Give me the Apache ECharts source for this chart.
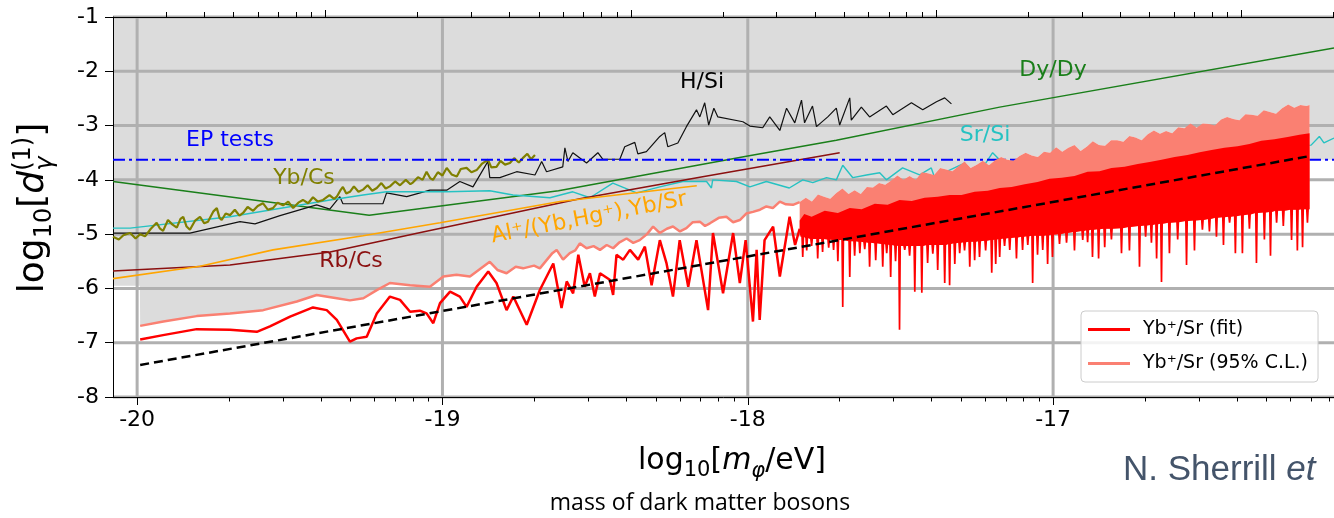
<!DOCTYPE html>
<html><head><meta charset="utf-8">
<script src="https://cdn.jsdelivr.net/npm/echarts@6.0.0/dist/echarts.min.js"></script>
<style>html,body{margin:0;padding:0;background:#fff}#c{width:1334px;height:518px}</style>
</head><body><div id="c"></div>
<script>
// ---------------- data ----------------
const xTickValues = [-20, -19, -18, -17];
const yTickValues = [-8, -7, -6, -5, -4, -3, -2, -1];
const X0 = -20.079, X1 = -16.08;
const topDecadeOffset = -20.3825; // top (log) axis decades, in bottom-axis units

const epTests = [[-20.079, -3.63], [-16.08, -3.63]];
const dyDy = [[-20.079,-4.03],[-19.24,-4.65],[-18.62,-4.20],[-18.33,-3.90],[-18.0,-3.56],[-17.71,-3.27],[-17.175,-2.66],[-16.08,-1.57]];
const hSi = [[-20.079,-4.98],[-19.827,-4.98],[-19.663,-4.77],[-19.614,-4.81],[-19.532,-4.66],[-19.412,-4.46],[-19.369,-4.54],[-19.336,-4.31],[-19.326,-4.44],[-19.195,-4.44],[-19.183,-4.24],[-19.117,-4.31],[-19.041,-4.19],[-18.986,-4.19],[-18.943,-4.03],[-18.900,-4.13],[-18.851,-3.66],[-18.845,-3.96],[-18.812,-3.96],[-18.757,-3.85],[-18.697,-3.91],[-18.675,-3.66],[-18.659,-3.85],[-18.606,-3.76],[-18.599,-3.41],[-18.589,-3.66],[-18.573,-3.50],[-18.528,-3.69],[-18.491,-3.50],[-18.475,-3.62],[-18.419,-3.62],[-18.403,-3.39],[-18.370,-3.31],[-18.360,-3.52],[-18.332,-3.48],[-18.288,-3.20],[-18.272,-3.13],[-18.262,-3.39],[-18.229,-3.32],[-18.201,-3.02],[-18.168,-2.71],[-18.157,-2.84],[-18.141,-2.58],[-18.128,-2.99],[-18.111,-2.68],[-18.098,-2.84],[-18.016,-2.93],[-17.993,-3.01],[-17.951,-3.04],[-17.928,-2.84],[-17.895,-3.09],[-17.873,-2.68],[-17.846,-2.95],[-17.824,-2.53],[-17.814,-2.95],[-17.788,-2.64],[-17.775,-3.02],[-17.738,-2.84],[-17.710,-2.68],[-17.699,-2.99],[-17.666,-2.49],[-17.661,-2.90],[-17.628,-2.66],[-17.601,-2.84],[-17.546,-2.64],[-17.525,-2.80],[-17.464,-2.58],[-17.427,-2.71],[-17.382,-2.56],[-17.355,-2.49],[-17.333,-2.60]];
const ybCs = [[-20.079,-5.05],[-20.060,-5.10],[-20.045,-5.02],[-20.023,-4.98],[-20.005,-5.08],[-19.990,-5.00],[-19.974,-5.04],[-19.955,-4.90],[-19.936,-4.79],[-19.925,-4.90],[-19.915,-4.94],[-19.899,-4.74],[-19.885,-4.82],[-19.870,-4.88],[-19.858,-4.72],[-19.849,-4.68],[-19.838,-4.86],[-19.827,-4.92],[-19.810,-4.75],[-19.794,-4.68],[-19.780,-4.80],[-19.768,-4.77],[-19.750,-4.58],[-19.739,-4.52],[-19.730,-4.70],[-19.723,-4.74],[-19.710,-4.62],[-19.696,-4.65],[-19.680,-4.55],[-19.665,-4.66],[-19.653,-4.61],[-19.638,-4.50],[-19.620,-4.57],[-19.605,-4.48],[-19.588,-4.43],[-19.572,-4.55],[-19.555,-4.52],[-19.540,-4.42],[-19.522,-4.47],[-19.505,-4.40],[-19.489,-4.52],[-19.472,-4.42],[-19.457,-4.37],[-19.440,-4.43],[-19.424,-4.32],[-19.408,-4.40],[-19.391,-4.37],[-19.370,-4.28],[-19.355,-4.35],[-19.346,-4.31],[-19.335,-4.20],[-19.326,-4.13],[-19.315,-4.25],[-19.303,-4.22],[-19.290,-4.12],[-19.275,-4.22],[-19.260,-4.18],[-19.245,-4.10],[-19.230,-4.20],[-19.215,-4.15],[-19.200,-4.06],[-19.186,-4.16],[-19.172,-4.12],[-19.155,-4.03],[-19.139,-4.10],[-19.120,-4.00],[-19.105,-4.08],[-19.097,-4.05],[-19.080,-3.95],[-19.065,-4.00],[-19.052,-3.85],[-19.040,-3.97],[-19.031,-4.00],[-19.015,-3.86],[-19.000,-3.92],[-18.986,-3.78],[-18.970,-3.90],[-18.953,-3.94],[-18.940,-3.80],[-18.921,-3.78],[-18.905,-3.86],[-18.888,-3.82],[-18.870,-3.70],[-18.851,-3.63],[-18.840,-3.77],[-18.823,-3.76],[-18.810,-3.65],[-18.795,-3.72],[-18.779,-3.69],[-18.765,-3.60],[-18.750,-3.68],[-18.737,-3.60],[-18.722,-3.52],[-18.710,-3.62],[-18.697,-3.54]];
const srSi = [[-20.079,-4.89],[-20.023,-4.89],[-19.696,-4.68],[-19.368,-4.37],[-19.260,-4.28],[-19.183,-4.22],[-18.986,-4.22],[-18.845,-4.20],[-18.769,-4.28],[-18.648,-4.33],[-18.573,-4.22],[-18.517,-4.33],[-18.442,-4.06],[-18.364,-4.24],[-18.288,-4.13],[-18.213,-4.03],[-18.135,-4.03],[-18.119,-4.15],[-18.115,-4.00],[-18.037,-4.03],[-17.993,-4.13],[-17.939,-4.03],[-17.864,-4.15],[-17.820,-4.00],[-17.787,-4.05],[-17.742,-3.96],[-17.710,-4.00],[-17.689,-3.73],[-17.656,-3.96],[-17.611,-3.91],[-17.568,-3.87],[-17.546,-4.00],[-17.493,-3.78],[-17.437,-3.91],[-17.399,-3.78],[-17.388,-3.96],[-17.339,-3.82],[-17.290,-3.69],[-17.273,-3.82],[-17.231,-3.78],[-17.198,-3.50],[-17.165,-3.69],[-16.848,-3.54],[-16.520,-3.45],[-16.155,-3.36],[-16.128,-3.20],[-16.113,-3.32],[-16.080,-3.23]];
const rbCs = [[-20.079,-5.68],[-19.696,-5.57],[-19.368,-5.33],[-19.064,-4.96],[-18.812,-4.66],[-18.550,-4.35],[-18.157,-3.95],[-17.699,-3.50]];
const alYbHgSr = [[-20.079,-5.82],[-19.794,-5.59],[-19.555,-5.29],[-19.260,-5.03],[-19.008,-4.79],[-18.615,-4.40],[-18.167,-4.11]];
const dashedRef = [[-19.990,-7.41],[-16.167,-3.57]];

// Yb+/Sr 95% C.L.: smooth/zigzag part, then top edge of the dense band
const clLine = [[-19.990,-6.69],[-19.914,-6.61],[-19.805,-6.51],[-19.696,-6.46],[-19.587,-6.40],[-19.477,-6.24],[-19.412,-6.12],[-19.346,-6.18],[-19.303,-6.22],[-19.259,-6.18],[-19.215,-6.03],[-19.172,-5.90],[-19.106,-5.94],[-19.041,-5.97],[-18.997,-5.78],[-18.954,-5.75],[-18.910,-5.78],[-18.845,-5.51],[-18.820,-5.66],[-18.790,-5.72],[-18.760,-5.60],[-18.736,-5.63],[-18.700,-5.58],[-18.681,-5.63],[-18.640,-5.35],[-18.626,-5.29],[-18.605,-5.47],[-18.583,-5.35],[-18.565,-5.30],[-18.550,-5.17],[-18.528,-5.26],[-18.505,-5.22],[-18.484,-5.29],[-18.462,-5.20],[-18.441,-5.26],[-18.420,-5.15],[-18.397,-5.08],[-18.375,-5.16],[-18.354,-5.11],[-18.330,-5.00],[-18.310,-4.86],[-18.288,-4.98],[-18.265,-4.90],[-18.245,-4.86],[-18.222,-4.95],[-18.201,-4.89],[-18.180,-4.78],[-18.157,-4.77],[-18.140,-4.85],[-18.124,-4.80],[-18.095,-4.70],[-18.070,-4.68],[-18.048,-4.78],[-18.026,-4.74],[-18.005,-4.62],[-17.983,-4.59],[-17.960,-4.55],[-17.939,-4.49],[-17.918,-4.52],[-17.895,-4.40],[-17.875,-4.45],[-17.852,-4.46],[-17.830,-4.41]];
const clTop = [[-17.83,-4.41],[-17.81,-4.33],[-17.79,-4.40],[-17.77,-4.27],[-17.75,-4.31],[-17.73,-4.35],[-17.71,-4.24],[-17.69,-4.16],[-17.67,-4.26],[-17.65,-4.19],[-17.63,-4.26],[-17.61,-4.13],[-17.59,-4.14],[-17.57,-4.06],[-17.55,-4.09],[-17.53,-4.01],[-17.51,-3.92],[-17.49,-4.00],[-17.47,-3.93],[-17.45,-4.00],[-17.43,-3.86],[-17.41,-3.88],[-17.39,-3.91],[-17.37,-3.78],[-17.35,-3.81],[-17.33,-3.84],[-17.31,-3.75],[-17.29,-3.66],[-17.27,-3.78],[-17.25,-3.72],[-17.23,-3.65],[-17.21,-3.73],[-17.19,-3.64],[-17.17,-3.58],[-17.15,-3.63],[-17.13,-3.65],[-17.11,-3.56],[-17.09,-3.50],[-17.07,-3.55],[-17.05,-3.58],[-17.03,-3.48],[-17.01,-3.50],[-16.99,-3.40],[-16.97,-3.48],[-16.95,-3.41],[-16.93,-3.36],[-16.91,-3.47],[-16.89,-3.39],[-16.87,-3.29],[-16.85,-3.36],[-16.83,-3.37],[-16.81,-3.27],[-16.79,-3.27],[-16.77,-3.30],[-16.75,-3.19],[-16.73,-3.22],[-16.71,-3.27],[-16.69,-3.16],[-16.67,-3.09],[-16.65,-3.15],[-16.63,-3.10],[-16.61,-3.14],[-16.59,-3.03],[-16.57,-3.05],[-16.55,-2.96],[-16.53,-3.04],[-16.51,-2.96],[-16.49,-2.97],[-16.47,-3.00],[-16.45,-2.89],[-16.43,-2.84],[-16.41,-2.88],[-16.39,-2.90],[-16.37,-2.79],[-16.35,-2.80],[-16.33,-2.82],[-16.31,-2.72],[-16.29,-2.75],[-16.27,-2.78],[-16.25,-2.68],[-16.23,-2.61],[-16.21,-2.67],[-16.19,-2.62],[-16.17,-2.64],[-16.16,-2.62]];

// Yb+/Sr fit: smooth/zigzag part, top edge of dense band, and downward spikes [x, bandBottom, tip]
const fitLine = [[-19.990,-6.94],[-19.915,-6.86],[-19.805,-6.75],[-19.696,-6.76],[-19.608,-6.80],[-19.565,-6.70],[-19.499,-6.52],[-19.424,-6.35],[-19.379,-6.40],[-19.346,-6.58],[-19.303,-6.98],[-19.281,-6.92],[-19.248,-6.89],[-19.215,-6.46],[-19.172,-6.15],[-19.139,-6.21],[-19.106,-6.43],[-19.074,-6.41],[-19.052,-6.46],[-19.030,-6.64],[-19.008,-6.27],[-18.975,-6.06],[-18.943,-6.15],[-18.921,-6.34],[-18.888,-5.97],[-18.850,-5.69],[-18.823,-5.90],[-18.790,-6.40],[-18.768,-6.15],[-18.724,-6.67],[-18.681,-6.03],[-18.637,-5.54],[-18.610,-6.36],[-18.593,-5.87],[-18.572,-6.09],[-18.555,-5.38],[-18.534,-5.97],[-18.517,-5.72],[-18.501,-6.15],[-18.484,-5.72],[-18.452,-5.84],[-18.441,-6.12],[-18.430,-5.38],[-18.408,-5.47],[-18.386,-5.29],[-18.359,-5.47],[-18.337,-5.23],[-18.315,-5.94],[-18.288,-5.11],[-18.266,-5.54],[-18.245,-6.15],[-18.223,-5.11],[-18.195,-5.97],[-18.168,-5.11],[-18.130,-6.40],[-18.114,-4.98],[-18.081,-6.09],[-18.048,-4.98],[-18.026,-5.90],[-18.007,-5.11],[-17.983,-6.61],[-17.971,-5.29],[-17.961,-6.58],[-17.945,-5.11],[-17.917,-4.86],[-17.895,-5.78],[-17.863,-4.68],[-17.845,-5.20],[-17.830,-4.90]];
const fitTop = [[-17.830,-4.75],[-17.815,-4.63],[-17.791,-4.68],[-17.748,-4.57],[-17.705,-4.61],[-17.666,-4.52],[-17.627,-4.54],[-17.584,-4.44],[-17.542,-4.46],[-17.503,-4.37],[-17.463,-4.39],[-17.421,-4.33],[-17.378,-4.31],[-17.339,-4.28],[-17.300,-4.28],[-17.257,-4.22],[-17.214,-4.20],[-17.175,-4.15],[-17.136,-4.13],[-17.093,-4.08],[-17.051,-4.04],[-17.012,-3.98],[-16.972,-3.96],[-16.930,-3.93],[-16.887,-3.85],[-16.848,-3.84],[-16.809,-3.78],[-16.766,-3.76],[-16.723,-3.71],[-16.684,-3.67],[-16.645,-3.63],[-16.602,-3.58],[-16.560,-3.54],[-16.520,-3.49],[-16.481,-3.45],[-16.439,-3.41],[-16.396,-3.38],[-16.357,-3.34],[-16.318,-3.28],[-16.275,-3.25],[-16.232,-3.21],[-16.193,-3.17],[-16.160,-3.14]];
const fitSpikes = [[-17.820,-5.05,-5.42],[-17.807,-5.07,-5.30],[-17.791,-5.09,-5.22],[-17.771,-5.09,-5.45],[-17.755,-5.09,-5.33],[-17.735,-5.10,-5.25],[-17.719,-5.11,-5.29],[-17.705,-5.11,-5.50],[-17.689,-5.11,-6.34],[-17.666,-5.13,-5.79],[-17.650,-5.13,-5.40],[-17.633,-5.14,-5.35],[-17.617,-5.15,-5.28],[-17.601,-5.16,-5.60],[-17.581,-5.17,-5.48],[-17.558,-5.18,-5.60],[-17.545,-5.19,-5.35],[-17.532,-5.20,-5.79],[-17.516,-5.21,-5.50],[-17.503,-5.22,-6.76],[-17.486,-5.22,-5.29],[-17.470,-5.22,-5.40],[-17.453,-5.22,-6.06],[-17.430,-5.22,-6.08],[-17.411,-5.20,-5.53],[-17.394,-5.20,-5.36],[-17.378,-5.20,-5.66],[-17.355,-5.20,-5.90],[-17.339,-5.18,-5.94],[-17.322,-5.17,-5.55],[-17.306,-5.16,-5.35],[-17.290,-5.15,-5.30],[-17.273,-5.14,-5.60],[-17.257,-5.14,-5.48],[-17.241,-5.13,-5.42],[-17.221,-5.12,-5.30],[-17.201,-5.11,-5.71],[-17.188,-5.10,-5.55],[-17.175,-5.09,-5.42],[-17.159,-5.08,-5.22],[-17.142,-5.07,-5.29],[-17.120,-5.06,-5.45],[-17.100,-5.05,-5.29],[-17.083,-5.04,-5.20],[-17.067,-5.03,-5.90],[-17.051,-5.03,-5.38],[-17.034,-5.03,-5.29],[-17.018,-5.02,-5.55],[-17.002,-5.01,-5.42],[-16.979,-5.00,-5.18],[-16.956,-4.98,-5.16],[-16.930,-4.96,-5.30],[-16.903,-4.94,-5.11],[-16.887,-4.93,-5.15],[-16.871,-4.92,-5.42],[-16.851,-4.91,-5.45],[-16.831,-4.90,-5.24],[-16.809,-4.90,-5.10],[-16.776,-4.89,-5.35],[-16.750,-4.87,-5.30],[-16.717,-4.85,-5.60],[-16.697,-4.84,-5.05],[-16.678,-4.83,-5.16],[-16.661,-4.82,-5.45],[-16.645,-4.81,-5.88],[-16.619,-4.79,-5.35],[-16.592,-4.78,-5.10],[-16.563,-4.76,-5.57],[-16.537,-4.75,-5.30],[-16.511,-4.74,-4.92],[-16.488,-4.72,-4.95],[-16.465,-4.70,-5.05],[-16.442,-4.69,-5.20],[-16.422,-4.68,-4.79],[-16.403,-4.67,-5.35],[-16.380,-4.65,-5.35],[-16.357,-4.64,-4.90],[-16.334,-4.61,-5.53],[-16.308,-4.60,-5.10],[-16.288,-4.59,-5.40],[-16.268,-4.57,-4.79],[-16.246,-4.57,-4.85],[-16.219,-4.55,-5.11],[-16.200,-4.55,-5.30],[-16.183,-4.54,-5.24],[-16.167,-4.54,-4.79]];

// ---------------- helpers ----------------
const FONT = '"DejaVu Sans"';
const bottomMinor = [], topMajor = [], topMinor = [];
for (let k = 0; k < 4; k++) for (let m = 2; m <= 9; m++) { const v = -20 + k + Math.log10(m); if (v > X0 && v < X1) bottomMinor.push(v); }
for (let k = 0; k < 5; k++) {
  const base = topDecadeOffset + k;
  if (k > 0 && base > X0 && base < X1) topMajor.push(base);
  for (let m = 2; m <= 9; m++) { const v = base + Math.log10(m); if (v > X0 && v < X1) topMinor.push(v); }
}

function lineS(name, data, color, width, z, type) {
  return { type: 'line', name, data, showSymbol: false, symbol: 'none', silent: true, clip: true, z,
    lineStyle: { color, width, type: type || 'solid' }, itemStyle: { color }, emphasis: { disabled: true } };
}
function polyS(pts, color, z) {
  return { type: 'custom', z, silent: true, clip: true, data: [[-18, -4]],
    renderItem: (p, api) => ({ type: 'polygon', shape: { points: pts.map(q => api.coord(q)) }, style: { fill: color } }) };
}
// polygons
const grayPts = [[X0, -1], [X0, -5.95], [-19.991, -5.95]].concat(clLine, clTop, [[-16.158, -3.63], [X1, -3.63], [X1, -1]]);
const clBandPts = clTop.slice();
clBandPts.push([-16.160, fitSpikes[fitSpikes.length - 1][1]]);
for (let i = fitSpikes.length - 1; i >= 0; i--) clBandPts.push([fitSpikes[i][0], fitSpikes[i][1]]);
clBandPts.push([-17.830, fitSpikes[0][1]]);
const fitBandPts = fitTop.slice();
fitBandPts.push([-16.160, fitSpikes[fitSpikes.length - 1][1]]);
for (let i = fitSpikes.length - 1; i >= 0; i--) {
  const [x, b, t] = fitSpikes[i];
  fitBandPts.push([x + 0.005, b], [x + 0.0028, t], [x - 0.0028, t], [x - 0.005, b]);
}
fitBandPts.push([-17.830, -5.0]);

const gridV = { type: 'custom', z: 0, silent: true, clip: false, data: xTickValues.map(v => [v, -4.5]),
  renderItem: (p, api) => { const a = api.coord([api.value(0), -8]), b = api.coord([api.value(0), -1]);
    return { type: 'line', shape: { x1: a[0], y1: a[1], x2: b[0], y2: b[1] }, style: { stroke: '#b0b0b0', lineWidth: 3 } }; } };
const gridH = { type: 'custom', z: 0, silent: true, clip: false, data: yTickValues.map(v => [-18, v]),
  renderItem: (p, api) => { const a = api.coord([X0, api.value(1)]), b = api.coord([X1, api.value(1)]);
    return { type: 'line', shape: { x1: a[0], y1: a[1], x2: b[0], y2: b[1] }, style: { stroke: '#b0b0b0', lineWidth: 3 } }; } };

// math-like text built from fragments
const mctx = document.createElement('canvas').getContext('2d');
function tw(t, size, it, fam) { mctx.font = (it ? 'italic ' : '') + size + 'px ' + (fam || FONT); return mctx.measureText(t).width; }
function mathText(frags, fill) {
  const items = []; let x = 0;
  frags.forEach(f => {
    const list = f.stack || [f]; let adv = 0;
    list.forEach(g => { items.push({ t: g.t, s: g.s, it: g.it, dy: g.dy || 0, x }); adv = Math.max(adv, tw(g.t, g.s, g.it)); });
    x += adv;
  });
  const half = x / 2;
  return items.map(g => ({ type: 'text', x: g.x - half, y: g.dy - 0.35 * g.s,
    style: { text: g.t, fontSize: g.s, fontFamily: 'DejaVu Sans', fontStyle: g.it ? 'italic' : 'normal', fill, textAlign: 'left', textVerticalAlign: 'middle' } }));
}
function label(text, x, y, color, rot) {
  return { type: 'text', x, y, rotation: rot || 0, z: 50,
    style: { text, fontSize: 22, fontFamily: 'DejaVu Sans', fill: color, textAlign: 'center', textVerticalAlign: 'middle' } };
}
const sherrillW = tw('N. Sherrill ', 35, false, '"Liberation Sans"');

const axisCommon = { type: 'value', min: X0, max: X1, gridIndex: 0, splitLine: { show: false } };
const option = {
  animation: false,
  backgroundColor: '#fff',
  grid: { left: 113, top: 17, width: 1221, height: 380, containLabel: false },
  xAxis: [
    Object.assign({}, axisCommon, { position: 'bottom',
      axisLine: { show: true, onZero: false, lineStyle: { color: '#000', width: 1 } },
      axisTick: { show: true, customValues: xTickValues, length: 8, lineStyle: { color: '#000', width: 1 } },
      axisLabel: { show: true, customValues: xTickValues, formatter: v => String(Math.round(v)), fontSize: 22, fontFamily: 'DejaVu Sans', color: '#000', margin: 12 } }),
    Object.assign({}, axisCommon, { position: 'bottom', axisLine: { show: false, onZero: false },
      axisTick: { show: true, customValues: bottomMinor, length: 4.5, lineStyle: { color: '#000', width: 1 } }, axisLabel: { show: false } }),
    Object.assign({}, axisCommon, { position: 'top',
      axisLine: { show: true, onZero: false, lineStyle: { color: '#000', width: 1 } },
      axisTick: { show: true, customValues: topMajor, length: 7, lineStyle: { color: '#000', width: 1 } }, axisLabel: { show: false } }),
    Object.assign({}, axisCommon, { position: 'top', axisLine: { show: false, onZero: false },
      axisTick: { show: true, customValues: topMinor, length: 5, lineStyle: { color: '#000', width: 1 } }, axisLabel: { show: false } })
  ],
  yAxis: { type: 'value', min: -8, max: -1, interval: 1, position: 'left',
    axisLine: { show: true, onZero: false, lineStyle: { color: '#000', width: 1 } },
    axisTick: { show: true, length: 8, lineStyle: { color: '#000', width: 1 } },
    axisLabel: { fontSize: 22, fontFamily: 'DejaVu Sans', color: '#000', margin: 14 },
    splitLine: { show: false } },
  legend: {
    data: ['Yb⁺/Sr (fit)', 'Yb⁺/Sr (95% C.L.)'], orient: 'vertical', left: 1081, top: 311,
    icon: 'rect', itemWidth: 42, itemHeight: 3, itemGap: 15, padding: [9, 10, 9, 7],
    backgroundColor: 'rgba(255,255,255,0.85)', borderColor: '#cccccc', borderWidth: 1, borderRadius: 4,
    textStyle: { fontSize: 19, fontFamily: 'DejaVu Sans', color: '#000', padding: [0, 0, 0, 8] },
    selectedMode: false
  },
  series: [
    polyS(grayPts, '#dcdcdc', -1),
    gridV, gridH,
    lineS('Dy/Dy', dyDy, '#1a7f1a', 1.5, 3),
    lineS('H/Si', hSi, '#111111', 1.2, 3),
    lineS('Sr/Si', srSi, '#26c2c2', 1.4, 3),
    lineS('Rb/Cs', rbCs, '#8b1010', 1.5, 3),
    lineS('Al', alYbHgSr, '#ffa500', 1.6, 3),
    lineS('Yb/Cs', ybCs, '#808000', 2.2, 3),
    lineS('EP tests', epTests, '#0000ff', 2, 3, [12, 4, 3, 4]),
    polyS(clBandPts, '#fa8072', 4),
    lineS('Yb⁺/Sr (95% C.L.)', clLine, '#fa8072', 2.5, 4),
    polyS(fitBandPts, '#ff0000', 5),
    lineS('Yb⁺/Sr (fit)', fitLine, '#ff0000', 2.5, 5),
    lineS('ref', dashedRef, '#000000', 2.5, 6, [9, 5])
  ],
  graphic: { elements: [
    label('EP tests', 230, 140, '#0000ff'),
    label('Yb/Cs', 304, 178, '#808000'),
    label('H/Si', 702, 82, '#000000'),
    label('Dy/Dy', 1053, 70, '#1a7f1a'),
    label('Sr/Si', 985, 135, '#26c2c2'),
    label('Rb/Cs', 351, 261, '#8b1010'),
    label('Al⁺/(Yb,Hg⁺),Yb/Sr', 589, 218, '#ffa500', 11 * Math.PI / 180),
    { type: 'group', x: 46, y: 208, rotation: Math.PI / 2,
      children: mathText([{ t: 'log', s: 36 }, { t: '10', s: 24, dy: 7 }, { t: '[', s: 36 }, { t: 'd', s: 36, it: true },
        { stack: [{ t: 'γ', s: 24, dy: 8, it: true }, { t: '(1)', s: 24, dy: -14 }] }, { t: ']', s: 36 }], '#000') },
    { type: 'group', x: 732, y: 472,
      children: mathText([{ t: 'log', s: 30 }, { t: '10', s: 21, dy: 6 }, { t: '[', s: 30 }, { t: 'm', s: 30, it: true },
        { t: 'φ', s: 21, dy: 7, it: true }, { t: '/eV]', s: 30 }], '#000') },
    { type: 'text', x: 700, y: 503, style: { text: 'mass of dark matter bosons', fontSize: 23, fontFamily: 'Open Sans', fill: '#000', textAlign: 'center', textVerticalAlign: 'middle' } },
    { type: 'text', x: 1123, y: 470, style: { text: 'N. Sherrill ', fontSize: 35, fontFamily: 'Liberation Sans', fill: '#44546a', textAlign: 'left', textVerticalAlign: 'middle' } },
    { type: 'text', x: 1123 + sherrillW, y: 470, style: { text: 'et', fontSize: 35, fontFamily: 'Liberation Sans', fontStyle: 'italic', fill: '#44546a', textAlign: 'left', textVerticalAlign: 'middle' } }
  ] }
};
const chart = echarts.init(document.getElementById('c'), null, { renderer: 'canvas' });
chart.setOption(option);
</script>
</body></html>
